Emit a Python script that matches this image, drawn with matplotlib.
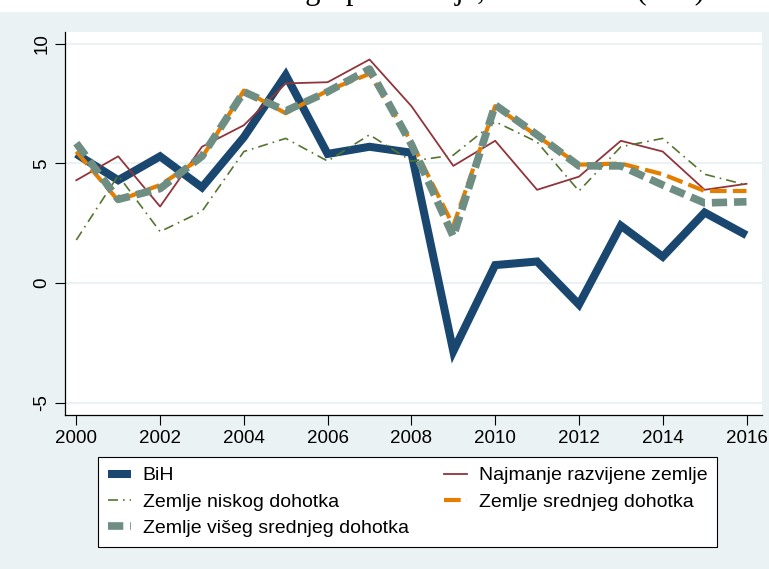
import matplotlib.pyplot as plt
from matplotlib.patches import Rectangle

plt.rcParams['font.family'] = ['Liberation Sans', 'DejaVu Sans']

years = list(range(2000, 2017))

bih = [5.4, 4.3, 5.3, 4.0, 6.1, 8.7, 5.4, 5.7, 5.45, -2.85, 0.75, 0.9, -0.9, 2.4, 1.1, 2.95, 2.0]
najmanje = [4.3, 5.3, 3.2, 5.7, 6.6, 8.35, 8.4, 9.35, 7.4, 4.9, 5.95, 3.9, 4.45, 5.95, 5.5, 3.9, 4.15]
niskog = [1.8, 4.5, 2.15, 3.0, 5.5, 6.05, 5.1, 6.2, 5.1, 5.35, 6.75, 5.9, 3.85, 5.7, 6.05, 4.55, 4.1]
srednjeg = [5.5, 3.45, 4.1, 5.25, 8.05, 7.1, 8.05, 8.75, 5.9, 2.4, 7.4, 6.15, 4.95, 5.0, 4.55, 3.85, 3.85]
viseg = [5.85, 3.5, 3.95, 5.3, 8.0, 7.2, 8.0, 8.95, 5.8, 1.95, 7.45, 6.2, 4.9, 4.9, 4.1, 3.35, 3.4]

labels = ['BiH', 'Najmanje razvijene zemlje', 'Zemlje niskog dohotka',
          'Zemlje srednjeg dohotka', 'Zemlje višeg srednjeg dohotka']

bg = '#eaf2f3'
W, H = 769, 569

fig = plt.figure(figsize=(W / 100, H / 100), dpi=100, facecolor=bg)
# white strip at top where the cut-off title sits
fig.patches.append(Rectangle((0, 1 - 12 / H), 1, 12 / H, transform=fig.transFigure,
                             facecolor='white', edgecolor='none', zorder=0))
fig.text(55 / W, 1 + 1.5 / H, 'Rast BDP-a u BiH i grupe zemalja, 2000–2016 (u %)',
         fontsize=22, family='Liberation Serif', va='baseline', ha='left')

ax = fig.add_axes([65 / W, 1 - 415 / H, (762 - 65) / W, (415 - 32) / H])
ax.set_facecolor('white')

l1, = ax.plot(years, bih, color='#1a476f', lw=5.8, solid_joinstyle='miter',
              solid_capstyle='butt', zorder=3)
l2, = ax.plot(years, najmanje, color='#90353b', lw=1.3, zorder=4)
l3, = ax.plot(years, niskog, color='#55752f', lw=1.2, dashes=(6, 3, 1, 3), zorder=4)
l4, = ax.plot(years, srednjeg, color='#e37e00', lw=3.0, dashes=(4, 1.5), zorder=5)
l5, = ax.plot(years, viseg, color='#6e8e84', lw=5.5, dashes=(2, 0.9), zorder=5)

ax.set_xlim(1999.73, 2016.37)
ax.set_ylim(-5.52, 10.5)
ax.set_xticks(range(2000, 2017, 2))
ax.set_yticks([-5, 0, 5, 10])
ax.set_yticklabels(['-5', '0', '5', '10'], rotation=90, va='center')
ax.tick_params(labelsize=13.5, length=7, width=0.8, colors='black')
ax.grid(axis='y', color=bg, lw=1.4)
ax.set_axisbelow(True)
for s in ['top', 'right']:
    ax.spines[s].set_visible(False)
for s in ['left', 'bottom']:
    ax.spines[s].set_linewidth(0.9)

handles = [l1, l3, l5, l2, l4]
hl = [labels[0], labels[2], labels[4], labels[1], labels[3]]
leg = fig.legend(handles, hl, ncol=2, loc='upper left',
                 bbox_to_anchor=(98 / W, 1 - 457 / H),
                 fontsize=14, frameon=True, fancybox=False,
                 edgecolor='black', facecolor='white', framealpha=1,
                 handlelength=1.2, handletextpad=0.6, labelspacing=0.45,
                 columnspacing=1.8, borderaxespad=0, borderpad=0.5)
leg.get_frame().set_linewidth(0.8)

fig.savefig('out.png', dpi=100, facecolor=bg)
